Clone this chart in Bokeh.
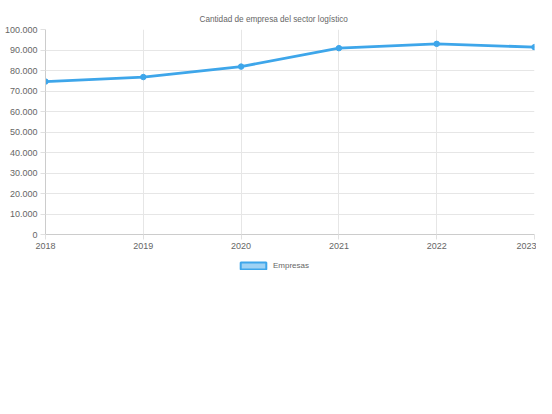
from bokeh.plotting import figure
from bokeh.models import (FixedTicker, CustomJSTickFormatter, Legend, LegendItem,
                          ColumnDataSource, Range1d)
from bokeh.layouts import column
from bokeh.embed import file_html
from bokeh.resources import INLINE

years = [2018, 2019, 2020, 2021, 2022, 2023]
empresas = [74600, 76800, 81900, 90900, 93000, 91400]
y_ticks = [0, 10000, 20000, 30000, 40000, 50000, 60000, 70000, 80000, 90000, 100000]
title_text = "Cantidad de empresa del sector logístico"
series_name = "Empresas"

FONT = "Liberation Sans"
LINE = "#3ea6ea"
TXT = "#666666"

p = figure(width=536, height=254, output_backend="svg", toolbar_location=None,
           x_range=Range1d(2018, 2023), y_range=Range1d(0, 100000),
           min_border_left=45, min_border_right=2, min_border_top=29,
           min_border_bottom=20)

p.title.text = title_text
p.title.align = "left"
p.title.offset = 154
p.title.text_font = FONT
p.title.text_font_size = "8.2px"
p.title.text_font_style = "normal"
p.title.text_color = TXT
p.title.standoff = 12

src = ColumnDataSource(dict(x=years, y=empresas))
p.line("x", "y", source=src, line_color=LINE, line_width=2.8)
p.scatter("x", "y", source=src, size=5.5, fill_color=LINE, line_color=LINE)

p.outline_line_color = None
for ax in (p.xaxis[0], p.yaxis[0]):
    ax.axis_line_color = "#cccccc"
    ax.major_tick_line_color = "#e0e0e0"
    ax.minor_tick_line_color = None
    ax.major_tick_out = 5
    ax.major_tick_in = 0
    ax.major_label_text_font = FONT
    ax.major_label_text_font_size = "9px"
    ax.major_label_text_color = TXT
    ax.major_label_standoff = 3

p.xaxis[0].ticker = FixedTicker(ticks=years)
p.yaxis[0].ticker = FixedTicker(ticks=y_ticks)
p.yaxis[0].formatter = CustomJSTickFormatter(
    code="return String(Math.round(tick)).replace(/\\B(?=(\\d{3})+(?!\\d))/g, '.');")

p.xgrid.grid_line_color = "#e6e6e6"
p.ygrid.grid_line_color = "#e6e6e6"
p.xgrid.ticker = FixedTicker(ticks=years)
p.ygrid.ticker = FixedTicker(ticks=y_ticks)

# legend strip
q = figure(width=536, height=22, output_backend="svg", toolbar_location=None,
           x_range=Range1d(0, 1), y_range=Range1d(0, 1),
           min_border=0)
q.axis.visible = False
q.grid.visible = False
q.outline_line_color = None
dummy = q.rect(x=[-10], y=[-10], width=1, height=1, fill_color=LINE, fill_alpha=0.5,
               line_color=LINE, line_width=2)
legend = Legend(items=[LegendItem(label=series_name, renderers=[dummy])],
                orientation="horizontal", location=(190, 4),
                label_text_font=FONT, label_text_font_size="8px",
                label_text_color=TXT, glyph_width=32, glyph_height=9,
                border_line_alpha=0, background_fill_alpha=0,
                padding=2, margin=0, label_standoff=4, label_height=9)
q.add_layout(legend)

layout = column(p, q, spacing=0)
open("out.html", "w").write(file_html(layout, INLINE))
